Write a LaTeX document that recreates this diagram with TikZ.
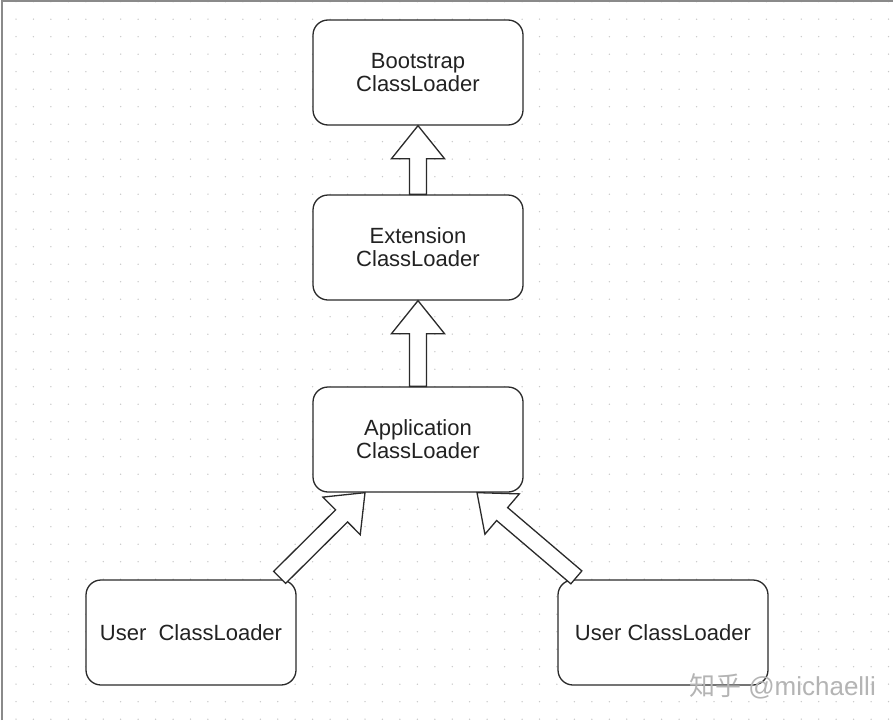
\documentclass[tikz,border=0pt]{standalone}
\usepackage{fontspec}
\setmainfont{Liberation Sans}
\newfontfamily\cjk{Noto Sans CJK SC}
\usetikzlibrary{calc}
\definecolor{dotc}{HTML}{C8C8C8}
\definecolor{txt}{HTML}{222222}
\definecolor{edge}{HTML}{2A2A2A}
\definecolor{frame}{HTML}{8A8A8A}
\definecolor{wm}{HTML}{B4B4B4}
\tikzset{
  loader/.style={draw=edge, line width=1.3pt, rounded corners=15pt, fill=white,
    minimum width=210pt, minimum height=105pt, align=center, text=txt,
    font=\fontsize{22}{23}\selectfont, inner sep=0pt},
  blockarr/.style={draw=edge, line width=1.3pt, fill=white, line join=miter},
}
\newcommand\blockarrow[2]{%
  \coordinate (hb) at ($(#2)!33pt!(#1)$);
  \draw[blockarr] ($(#1)!8.5pt!90:(#2)$) -- ($(hb)!8.5pt!90:(#2)$) -- ($(hb)!26.5pt!90:(#2)$)
    -- (#2) -- ($(hb)!26.5pt!-90:(#2)$) -- ($(hb)!8.5pt!-90:(#2)$) -- ($(#1)!8.5pt!-90:(#2)$) -- cycle;
}
\begin{document}
\begin{tikzpicture}[x=1pt,y=-1pt]
\useasboundingbox (0,0) rectangle (893,720);
\fill[white] (0,0) rectangle (893,720);
% dot grid
\foreach \i in {0,...,50}{
  \foreach \j in {0,...,41}{
    \fill[dotc] ({16+17.45*\i},{1.7+17.5*\j}) circle (0.75pt);
  }
}
% frame
\draw[frame, line width=2pt] (1.5,720) -- (1.5,1) -- (893,1);
% nodes
\node[loader] (boot) at (418,72.5) {Bootstrap\\ClassLoader};
\node[loader] (ext) at (418,247.5) {Extension\\ClassLoader};
\node[loader] (app) at (418,439.5) {Application\\ClassLoader};
\node[loader] (userL) at (191,632.5) {User~ ClassLoader};
\node[loader] (userR) at (663,632.5) {User ClassLoader};
% connectors
\blockarrow{ext.north}{boot.south}
\blockarrow{app.north}{ext.south}
\coordinate (tipL) at ($(app.south)+(-53,0)$);
\coordinate (tailL) at ($(userL.north east)+(-17,-2)$);
\coordinate (tipR) at ($(app.south)+(59,0)$);
\coordinate (tailR) at ($(userR.north west)+(19,-2)$);
\blockarrow{tailL}{tipL}
\blockarrow{tailR}{tipR}
% watermark
\node[text=wm, font=\fontsize{26}{28}\selectfont, anchor=base east, inner sep=0pt] (wmark) at (876,695) {{\cjk 知乎} @michaelli};
\end{tikzpicture}
\end{document}
